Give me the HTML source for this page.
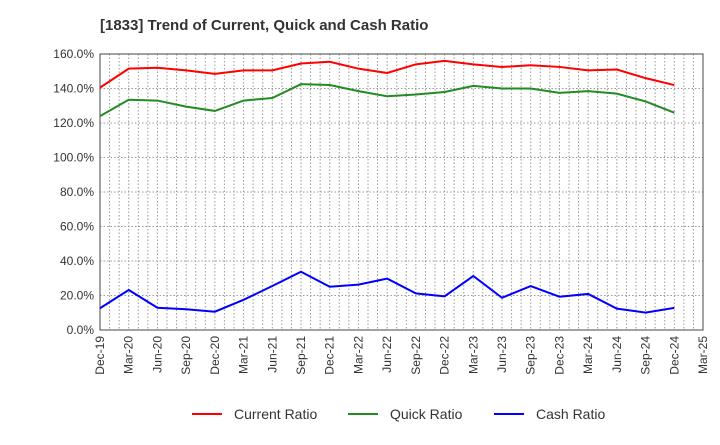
<!DOCTYPE html>
<html><head><meta charset="utf-8"><style>
body{margin:0;background:#fff;font-family:"Liberation Sans",sans-serif;}
svg text{font-family:"Liberation Sans",sans-serif;}
</style></head><body>
<svg id="chart" width="720" height="440" xmlns="http://www.w3.org/2000/svg">
<text x="100" y="30" font-size="15" font-weight="bold" fill="#333">[1833]  Trend of Current, Quick and Cash Ratio</text>
<g id="grid"></g><g id="axes"></g><g id="series"></g>
<g>
<g><line x1="192" y1="414" x2="222" y2="414" stroke="#ff0000" stroke-width="2"/><text x="234" y="419" font-size="14" fill="#333">Current Ratio</text></g>
<g><line x1="348" y1="414" x2="378" y2="414" stroke="#228b22" stroke-width="2"/><text x="390" y="419" font-size="14" fill="#333">Quick Ratio</text></g>
<g><line x1="494" y1="414" x2="524" y2="414" stroke="#0000ff" stroke-width="2"/><text x="536" y="419" font-size="14" fill="#333">Cash Ratio</text></g>
</g>
</svg>
<script>
const categories=["Dec-19","Mar-20","Jun-20","Sep-20","Dec-20","Mar-21","Jun-21","Sep-21","Dec-21","Mar-22","Jun-22","Sep-22","Dec-22","Mar-23","Jun-23","Sep-23","Dec-23","Mar-24","Jun-24","Sep-24","Dec-24","Mar-25"];
const currentRatio=[140.5,151.5,152,150.5,148.5,150.5,150.5,154.5,155.5,151.5,149,154,156,154,152.5,153.5,152.5,150.5,151,146,142];
const quickRatio=[124,133.5,133,129.5,127,133,134.5,142.5,142,138.5,135.5,136.5,138,141.5,140,140,137.5,138.5,137,132.5,126];
const cashRatio=[12.6,23.2,12.9,12,10.6,17.5,25.5,33.8,25.1,26.3,29.8,21.2,19.5,31.3,18.7,25.5,19.3,20.9,12.4,10.1,12.8];
const yTicks=[0,20,40,60,80,100,120,140,160];
const NS="http://www.w3.org/2000/svg";
const L=100,R=703,T=54,B=330,YMAX=160;
const xq=i=>L+(R-L)*i/(categories.length-1);
const xm=m=>L+(R-L)*m/((categories.length-1)*3);
const y=v=>B-(B-T)*v/YMAX;
function mk(tag,attrs,parent){const e=document.createElementNS(NS,tag);for(const k in attrs)e.setAttribute(k,attrs[k]);parent.appendChild(e);return e;}
const grid=document.getElementById('grid'),axes=document.getElementById('axes'),series=document.getElementById('series');
for(let m=1;m<(categories.length-1)*3;m++){const l=mk('line',{x1:xm(m),x2:xm(m),y1:T,y2:B,stroke:'#999','stroke-dasharray':'1.5,2','stroke-width':1},grid);

}
yTicks.forEach(v=>{const l=mk('line',{x1:L,x2:R,y1:y(v),y2:y(v),stroke:'#999','stroke-dasharray':'1.5,2','stroke-width':1},grid);


const t=mk('text',{x:L-6,y:y(v)+4,'text-anchor':'end','font-size':12,fill:'#333'},axes);t.textContent=v.toFixed(1)+'%';

});
const frame=mk('rect',{x:L,y:T,width:R-L,height:B-T,fill:'none',stroke:'#444','stroke-width':1},axes);


categories.forEach((c,i)=>{const t=mk('text',{transform:`translate(${xq(i)+4},${B+6}) rotate(-90)`,'text-anchor':'end','font-size':12,fill:'#333'},axes);t.textContent=c;

});
[[currentRatio,'#ff0000','current-ratio-line'],[quickRatio,'#228b22','quick-ratio-line'],[cashRatio,'#0000ff','cash-ratio-line']].forEach(([d,c,n])=>{
const p=mk('polyline',{points:d.map((v,i)=>xq(i)+','+y(v)).join(' '),fill:'none',stroke:c,'stroke-width':2},series);

});
</script>
</body></html>
